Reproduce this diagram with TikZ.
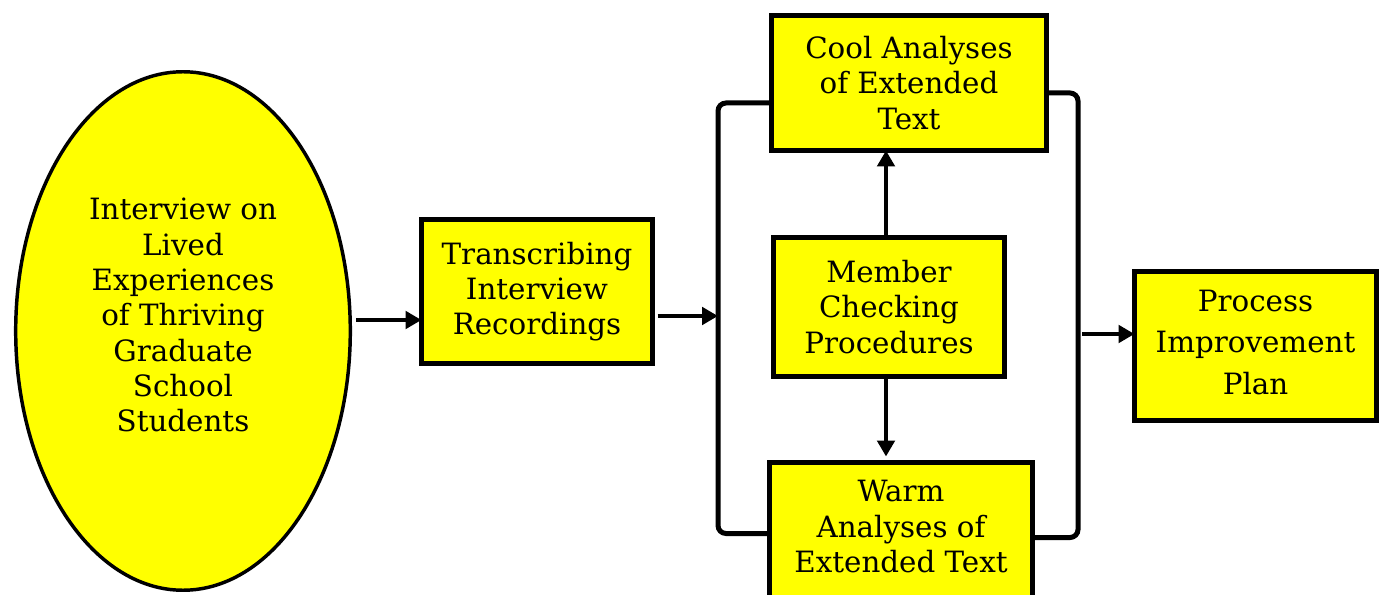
\documentclass[tikz,border=0pt]{standalone}
\usepackage{fontspec}
\setmainfont{DejaVu Serif}
\usetikzlibrary{shapes.geometric,arrows.meta,calc}
\definecolor{boxyellow}{RGB}{255,255,0}
\newdimen\pxu
\pxu=0.75pt
\tikzset{
  stage/.style={draw=black, line width=3.75pt, fill=boxyellow, rectangle,
    inner sep=0pt, outer sep=0pt, align=center,
    font=\fontsize{22pt}{26.5pt}\selectfont},
  source/.style={draw=black, line width=2.6pt, fill=boxyellow, ellipse,
    inner sep=0pt, outer sep=0pt, align=center,
    font=\fontsize{22pt}{26.5pt}\selectfont},
  flow/.style={line width=3.6pt, -{Triangle[length=12pt,width=13pt]}},
  bracket/.style={line width=3.75pt, rounded corners=6pt}
}
\begin{document}
\begin{tikzpicture}[x=0.75pt, y=-0.75pt]
\useasboundingbox (0,0) rectangle (1385,595);

% data source (a trailing empty line lifts the text block above the centre)
\node[source, minimum width=334.6\pxu, minimum height=518.5\pxu] (ell) at (183,331)
  {Interview on\\Lived\\Experiences\\of Thriving\\Graduate\\School\\Students\\[-2.5pt]\mbox{}};

% processing stages
\node[stage, minimum width=231\pxu, minimum height=144\pxu] (trans) at (537,291.5)
  {Transcribing\\Interview\\Recordings};
\node[stage, minimum width=275\pxu, minimum height=135\pxu] (cool) at (909,83)
  {Cool Analyses\\of Extended\\Text};
\node[stage, minimum width=231\pxu, minimum height=139\pxu] (member) at (889,307)
  {Member\\Checking\\Procedures};
\node[stage, minimum width=263\pxu, minimum height=140\pxu] (warm) at (901,532.5)
  {Warm\\Analyses of\\Extended Text\\[-17.5pt]\mbox{}};
\node[stage, minimum width=242\pxu, minimum height=149\pxu,
  font=\fontsize{22pt}{31pt}\selectfont] (plan) at (1255.5,346)
  {Process\\Improvement\\Plan\\[-25pt]\mbox{}};

% brackets grouping the two analyses
\coordinate (lb) at (718,316);
\coordinate (rb) at (1078,334);
\draw[bracket] ($(cool.west)+(0,20)$) -| (lb) |- ($(warm.west)+(0,1)$);
\draw[bracket] ($(cool.east)+(0,10)$) -| (rb) |- ($(warm.east)+(0,5)$);

% flow arrows
\coordinate (a1) at ($(ell.east)+(6,-11)$);
\draw[flow] (a1) -- (a1 -| trans.west);
\coordinate (a2) at ($(trans.east)+(5,24.5)$);
\draw[flow] (a2) -- (lb);
\coordinate (a3) at ($(rb)+(4,0)$);
\draw[flow] (a3) -- (a3 -| plan.west);
\draw[flow] ($(member.north)+(-3,0)$) -- ($(cool.south)+(-23,0)$);
\draw[flow] ($(member.south)+(-3,0)$) -- ($(warm.north)+(-15,-6)$);
\end{tikzpicture}
\end{document}
